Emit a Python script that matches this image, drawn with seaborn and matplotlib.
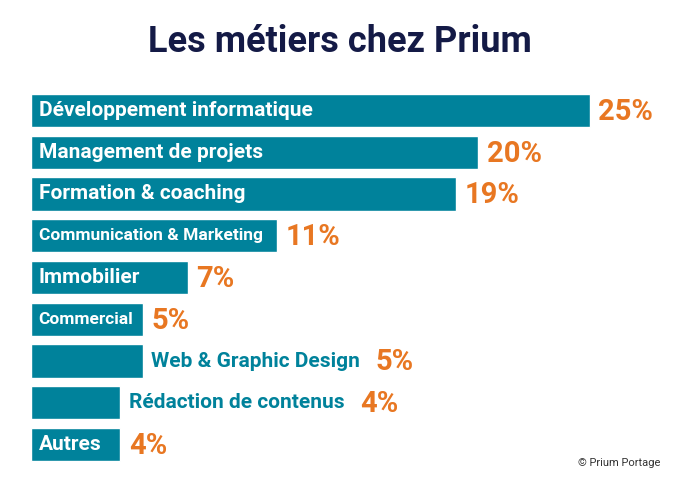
import matplotlib
matplotlib.use("Agg")
import matplotlib.pyplot as plt
import seaborn as sns
import pandas as pd

categories = ["Développement informatique", "Management de projets", "Formation & coaching",
              "Communication & Marketing", "Immobilier", "Commercial",
              "Web & Graphic Design", "Rédaction de contenus", "Autres"]
values = [25, 20, 19, 11, 7, 5, 5, 4, 4]
pct_labels = ["25%", "20%", "19%", "11%", "7%", "5%", "5%", "4%", "4%"]
label_inside = [True, True, True, True, True, True, False, False, True]
label_sizes = [15, 15, 15, 12.5, 15, 12.5, 15, 15, 15]

TEAL = "#00829B"
ORANGE = "#E87722"
NAVY = "#141A46"

sns.set_theme(style="white")
plt.rcParams["font.family"] = ["Roboto", "DejaVu Sans"]

df = pd.DataFrame({"cat": categories, "val": values})

fig = plt.figure(figsize=(6.8, 4.84), dpi=100)
ax = fig.add_axes([31 / 680, 0.0384, (28 * 22.36) / 680, 0.7765])
sns.barplot(data=df, x="val", y="cat", color=TEAL, saturation=1, width=0.8, ax=ax, orient="h")
ax.set_xlim(0, 28)
ax.set_ylim(8.5, -0.5)
ax.axis("off")

fig.text(0.5, 1 - 42 / 484, "Les métiers chez Prium", ha="center", va="center",
         fontsize=26, fontweight="bold", color=NAVY)
fig.text(660 / 680, 1 - 463 / 484, "© Prium Portage", ha="right", va="center",
         fontsize=8, color="#333333")

fig.canvas.draw()
renderer = fig.canvas.get_renderer()
for i, (cat, v, p, inside, fs) in enumerate(zip(categories, values, pct_labels, label_inside, label_sizes)):
    if inside:
        ax.annotate(cat, xy=(0, i), xytext=(5.5, 0), textcoords="offset points",
                    ha="left", va="center", color="white", fontsize=fs, fontweight="bold")
        ax.annotate(p, xy=(v, i), xytext=(6, -1), textcoords="offset points",
                    ha="left", va="center", color=ORANGE, fontsize=21, fontweight="bold")
    else:
        t = ax.annotate(cat, xy=(v, i), xytext=(6, 0), textcoords="offset points",
                        ha="left", va="center", color=TEAL, fontsize=fs, fontweight="bold")
        fig.canvas.draw()
        bb = t.get_window_extent(renderer)
        xend = ax.transData.inverted().transform((bb.x1, 0))[0]
        ax.annotate(p, xy=(xend, i), xytext=(11, -1), textcoords="offset points",
                    ha="left", va="center", color=ORANGE, fontsize=21, fontweight="bold")

fig.savefig("out.png", dpi=100)
